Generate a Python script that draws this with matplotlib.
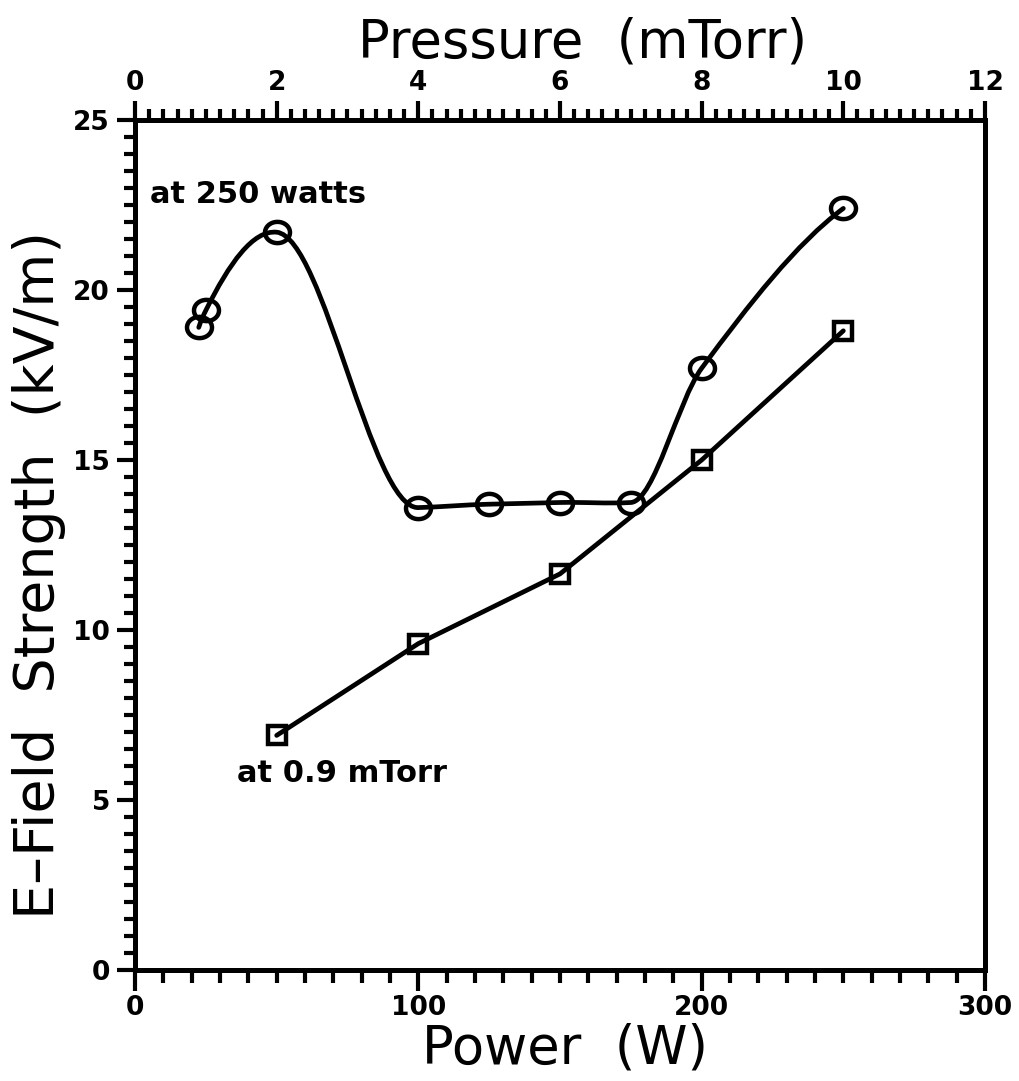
import numpy as np
import matplotlib
matplotlib.use("Agg")
import matplotlib.pyplot as plt
from matplotlib.path import Path
from matplotlib.patches import PathPatch
from matplotlib.ticker import MultipleLocator

# ---- data -------------------------------------------------------------
# E-field vs pressure (top axis), at 250 W
pressure_mtorr = [0.9, 1.0, 2.0, 4.0, 5.0, 6.0, 7.0, 8.0, 10.0]
efield_vs_pressure = [18.9, 19.4, 21.7, 13.6, 13.7, 13.75, 13.75, 17.7, 22.4]

# E-field vs power (bottom axis), at 0.9 mTorr
power_w = [50, 100, 150, 200, 250]
efield_vs_power = [6.9, 9.6, 11.65, 15.0, 18.8]

power_ticks = [0, 100, 200, 300]
pressure_ticks = [0, 2, 4, 6, 8, 10, 12]
efield_ticks = [0, 5, 10, 15, 20, 25]

label_power = "Power  (W)"
label_pressure = "Pressure  (mTorr)"
label_efield = "E\u2013Field  Strength  (kV/m)"
note_pressure_series = "at 250 watts"
note_power_series = "at 0.9 mTorr"


def akima_slopes(x, y):
    x = np.asarray(x, float)
    y = np.asarray(y, float)
    d = np.diff(y) / np.diff(x)
    dd = np.concatenate([[3 * d[0] - 2 * d[1], 2 * d[0] - d[1]], d,
                         [2 * d[-1] - d[-2], 3 * d[-1] - 2 * d[-2]]])
    m = np.zeros(len(x))
    for i in range(len(x)):
        dm2, dm1, d0, dp1 = dd[i], dd[i + 1], dd[i + 2], dd[i + 3]
        w1 = abs(dp1 - d0)
        w2 = abs(dm1 - dm2)
        if w1 + w2 < 1e-12:
            m[i] = 0.5 * (dm1 + d0)
        else:
            m[i] = (w1 * dm1 + w2 * d0) / (w1 + w2)
    return m


def smooth_path(x, y):
    m = akima_slopes(x, y)
    verts = [(x[0], y[0])]
    codes = [Path.MOVETO]
    for i in range(len(x) - 1):
        h = x[i + 1] - x[i]
        verts += [(x[i] + h / 3, y[i] + m[i] * h / 3),
                  (x[i + 1] - h / 3, y[i + 1] - m[i + 1] * h / 3),
                  (x[i + 1], y[i + 1])]
        codes += [Path.CURVE4] * 3
    return Path(verts, codes)


LW = 3.4
TICKW = 3.0
TICKFONT = dict(fontsize=19, fontweight="bold", family="DejaVu Sans")

fig = plt.figure(figsize=(10.19, 10.81), dpi=100)
ax = fig.add_axes([135 / 1019, 111 / 1081, 850 / 1019, 850 / 1081])
ax2 = ax.twiny()

for a in (ax, ax2):
    for s in a.spines.values():
        s.set_linewidth(3.6)
        s.set_capstyle("projecting")

ax.set_xlim(0, 300)
ax.set_ylim(0, 25)
ax2.set_xlim(0, 12)

ax.set_xticks(power_ticks)
ax.set_xticklabels([str(t) for t in power_ticks], **TICKFONT)
ax.xaxis.set_minor_locator(MultipleLocator(10))
ax.set_yticks(efield_ticks)
ax.set_yticklabels([str(t) for t in efield_ticks], **TICKFONT)
ax.yaxis.set_minor_locator(MultipleLocator(0.5))
ax2.set_xticks(pressure_ticks)
ax2.set_xticklabels([str(t) for t in pressure_ticks], **TICKFONT)
ax2.xaxis.set_minor_locator(MultipleLocator(0.2))

ax.tick_params(axis="x", which="major", direction="out", length=15, width=TICKW,
               pad=3, top=False, bottom=True)
ax.tick_params(axis="x", which="minor", direction="out", length=9, width=TICKW,
               top=False, bottom=True)
ax.tick_params(axis="y", which="major", direction="out", length=13, width=TICKW,
               pad=5, left=True, right=False)
ax.tick_params(axis="y", which="minor", direction="out", length=8, width=TICKW,
               left=True, right=False)
ax2.tick_params(axis="x", which="major", direction="out", length=14, width=TICKW,
                pad=3, top=True, bottom=False)
ax2.tick_params(axis="x", which="minor", direction="out", length=8, width=TICKW,
                top=True, bottom=False)

# ellipse-ish circle marker (slightly wider than tall)
theta = np.linspace(0, 2 * np.pi, 61)
ell = Path(np.column_stack([np.cos(theta), 0.85 * np.sin(theta)]), closed=True)

# pressure series: smooth curve + hollow circles
ax2.add_patch(PathPatch(smooth_path(pressure_mtorr, efield_vs_pressure),
                        fill=False, lw=LW, edgecolor="black",
                        capstyle="round", joinstyle="round"))
ax2.plot(pressure_mtorr, efield_vs_pressure, linestyle="none", marker=ell,
         ms=18, mfc="none", mec="black", mew=3.2)

# power series: straight segments + hollow squares
ax.plot(power_w, efield_vs_power, color="black", lw=LW,
        solid_capstyle="round", marker="s", ms=13, mfc="none",
        mec="black", mew=3.2)

ax.text(5.3, 22.56, note_pressure_series, fontsize=22, fontweight="bold",
        ha="left", va="baseline")
ax.text(36, 5.53, note_power_series, fontsize=22, fontweight="bold",
        ha="left", va="baseline")

fig.text(583 / 1019, 1 - 57 / 1081, label_pressure, fontsize=38,
         ha="center", va="baseline")
fig.text(565 / 1019, 1 - 1063 / 1081, label_power, fontsize=38,
         ha="center", va="baseline")
fig.text(54 / 1019, 1 - 575 / 1081, label_efield, fontsize=40, rotation=90,
         rotation_mode="anchor", ha="center", va="baseline")

fig.savefig("out.png", dpi=100, facecolor="white")
